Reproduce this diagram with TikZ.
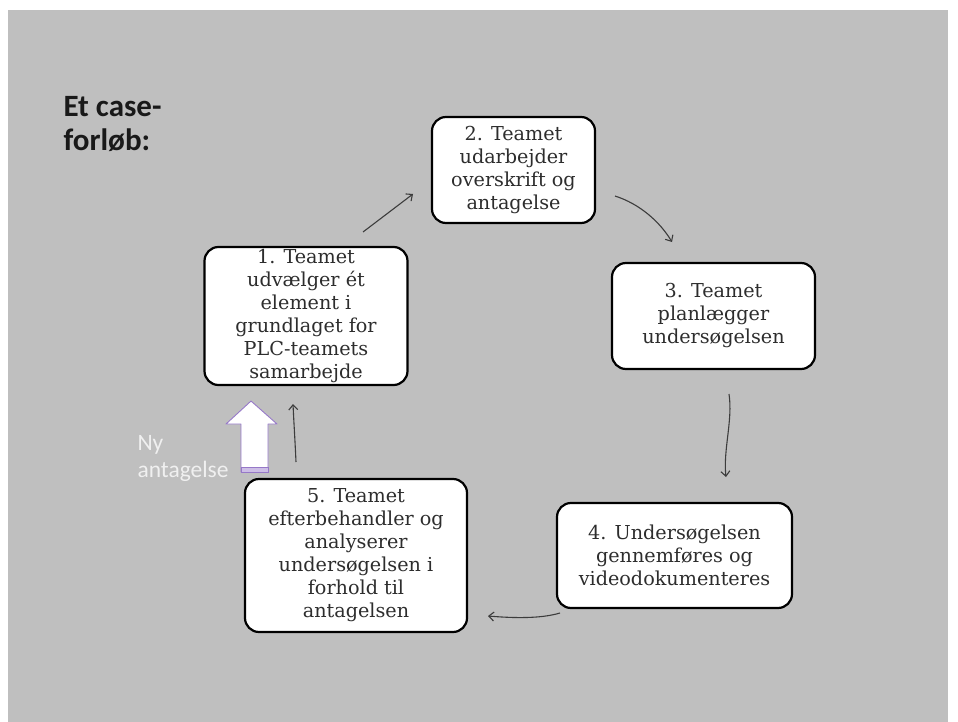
\documentclass[tikz,border=0pt]{standalone}
\usepackage{fontspec}
\setmainfont{DejaVu Serif}
\newfontfamily\titlefont{Carlito}
\usetikzlibrary{arrows.meta}
\definecolor{slidegray}{RGB}{191,191,191}
\definecolor{boxtext}{RGB}{45,45,45}
\definecolor{connc}{RGB}{60,60,60}
\definecolor{arrowpurple}{RGB}{150,120,200}
\definecolor{bandpurple}{RGB}{205,190,230}
\definecolor{lighttext}{RGB}{240,240,240}
\tikzset{
  stepbox/.style={draw=black, line width=2.2pt, fill=white, rounded corners=14pt,
    align=center, text=boxtext, inner sep=2pt,
    font=\fontsize{19.2}{23}\selectfont},
  conn/.style={draw=connc, line width=1.1pt, -{Straight Barb[length=5pt,width=9pt]}}
}
\begin{document}
\begin{tikzpicture}[x=1pt,y=-1pt]
\useasboundingbox (0,0) rectangle (958,722);
\fill[white] (0,0) rectangle (958,722);
\fill[slidegray] (8,10) rectangle (948,722);

\node[anchor=north west, align=left, text=black!90,
  font=\titlefont\bfseries\fontsize{31}{34}\selectfont] (title) at (60,93)
  {Et case-\\forløb:};

\node[stepbox, minimum width=203pt, minimum height=138pt] (b1) at (306,316)
  {1. Teamet\\udvælger ét\\element i\\grundlaget for\\PLC-teamets\\samarbejde};
\node[stepbox, minimum width=163pt, minimum height=106pt] (b2) at (513.5,170)
  {2. Teamet\\udarbejder\\overskrift og\\antagelse};
\node[stepbox, minimum width=203pt, minimum height=106pt] (b3) at (713.5,316)
  {3. Teamet\\planlægger\\undersøgelsen};
\node[stepbox, minimum width=235pt, minimum height=105pt] (b4) at (674.5,555.5)
  {4. Undersøgelsen\\gennemføres og\\videodokumenteres};
\node[stepbox, minimum width=222pt, minimum height=153pt] (b5) at (356,555.5)
  {5. Teamet\\efterbehandler og\\analyserer\\undersøgelsen i\\forhold til\\antagelsen};

\coordinate (a12s) at (363,232);
\coordinate (a12e) at (413,194);
\coordinate (a23s) at (615,196);
\coordinate (a23e) at (672,242);
\coordinate (a34s) at (729,394);
\coordinate (a34e) at (726,477);
\coordinate (a45s) at (560,613);
\coordinate (a45e) at (488,616);
\coordinate (a51s) at (296,462);
\coordinate (a51e) at (293,404);

\draw[conn] (a12s) -- (a12e);
\draw[conn] (a23s) .. controls (640,204) and (660,222) .. (a23e);
\draw[conn] (a34s) .. controls (733,420) and (723,450) .. (a34e);
\draw[conn] (a45s) .. controls (540,619) and (512,618) .. (a45e);
\draw[conn] (a51s) .. controls (295,440) and (294,425) .. (a51e);

% big block arrow
\draw[arrowpurple, line width=0.9pt, fill=white, line join=round]
  (251,401) -- (277,424) -- (268,424) -- (268,472) -- (241,472) -- (241,424) -- (226,424) -- cycle;
\draw[arrowpurple, line width=0.9pt, fill=bandpurple] (241,467) rectangle (268,472);

\node[anchor=west, align=left, text=lighttext,
  font=\titlefont\fontsize{23.5}{27}\selectfont] (ny) at (134,458)
  {Ny\\antagelse};
\end{tikzpicture}
\end{document}
